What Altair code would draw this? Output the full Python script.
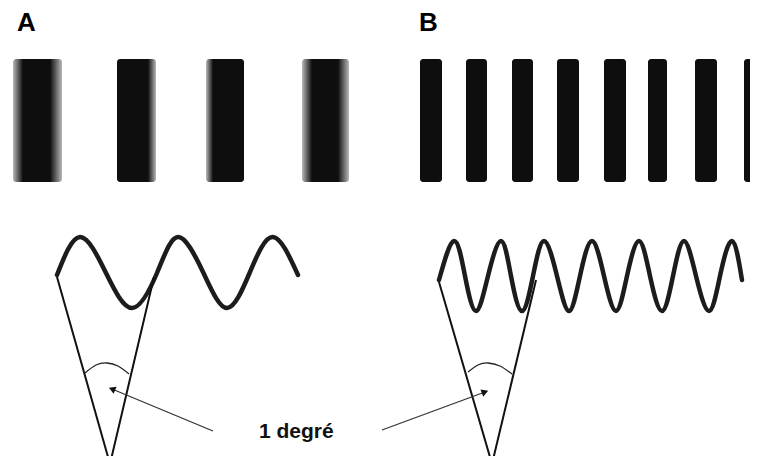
import altair as alt
import pandas as pd

# ---- data (image pixel coordinates) ----
panel_labels = ["A", "B"]
panel_label_x = [17, 419]
panel_label_y = [31, 31]

bar_top, bar_bottom = 59, 182
barsA_left = [13, 117, 206, 302]
barsA_right = [62, 156, 244, 349]
barsA_blur_left = [10, 0, 7, 10]
barsA_blur_right = [12, 8, 0, 11]
barsB_left = [420, 466, 512, 557, 604, 648, 695, 744]
barsB_right = [442, 487, 533, 579, 626, 667, 717, 762]

waveA_x = [57, 80, 106, 132, 157, 178, 203, 227, 250, 273, 298]
waveA_y = [275, 237, 273, 308, 273, 237, 272, 308, 272, 237, 275]
waveB_x = [439, 454, 465, 476, 488, 501, 511, 522, 533, 544, 557, 569, 580,
           592, 604, 616, 627, 639, 650, 662, 673, 684, 696, 709, 720, 732, 742]
waveB_y = [280, 241, 276, 311, 276, 241, 276, 311, 276, 241, 276, 311, 276,
           241, 276, 311, 276, 241, 276, 311, 276, 241, 276, 311, 276, 241, 280]

cone_x = [57, 154, 439, 536]
cone_y = [277, 277, 282, 280]
cone_apex_x = [110, 110, 492, 492]
cone_apex_y = [464, 464, 464, 464]

arcA_x = [85, 96, 107, 118, 129]
arcA_y = [373, 365, 363, 366, 374]
arcB_x = [468, 478, 488, 500, 512]
arcB_y = [372, 365, 363, 366, 374]

arrow_from_x = [213, 382]
arrow_from_y = [431, 430]
arrow_tip_x = [112, 485]
arrow_tip_y = [389, 392]
arrow_angle = [292.6, 69.6]

label_text = ["1 degré"]
label_x = [259]
label_y = [438]

# ---- scales ----
W, H = 742, 448
xs = alt.Scale(domain=[8, 750], nice=False, zero=False)
ys = alt.Scale(domain=[8, 456], nice=False, zero=False, reverse=True)


def X(f):
    return alt.X(f, type="quantitative", scale=xs, axis=None)


def Y(f):
    return alt.Y(f, type="quantitative", scale=ys, axis=None)


layers = []

# panel A bars with blurred edges
for l, r, bl, br in zip(barsA_left, barsA_right, barsA_blur_left, barsA_blur_right):
    w = r - l
    dark = "#0e0e0e"
    edge = "#b8b8b8"
    stops = [
        alt.GradientStop(offset=0, color=edge if bl > 0 else dark),
        alt.GradientStop(offset=bl / w if bl > 0 else 0.001, color=dark),
        alt.GradientStop(offset=1 - br / w if br > 0 else 0.999, color=dark),
        alt.GradientStop(offset=1, color=edge if br > 0 else dark),
    ]
    grad = alt.LinearGradient(gradient="linear", stops=stops, x1=0, x2=1, y1=0, y2=0)
    d = pd.DataFrame({"x": [l], "x2": [r], "y": [bar_top], "y2": [bar_bottom]})
    layers.append(
        alt.Chart(d).mark_rect(fill=grad, cornerRadius=3, clip=True).encode(
            x=X("x"), x2="x2", y=Y("y"), y2="y2"
        )
    )

# panel B bars
dB = pd.DataFrame({"x": barsB_left, "x2": barsB_right,
                   "y": [bar_top] * len(barsB_left), "y2": [bar_bottom] * len(barsB_left)})
layers.append(
    alt.Chart(dB).mark_rect(color="#0e0e0e", cornerRadius=3, clip=True).encode(
        x=X("x"), x2="x2", y=Y("y"), y2="y2"
    )
)

# waves
for wx, wy in [(waveA_x, waveA_y), (waveB_x, waveB_y)]:
    d = pd.DataFrame({"x": wx, "y": wy, "i": list(range(len(wx)))})
    layers.append(
        alt.Chart(d).mark_line(color="#1c1c1c", strokeWidth=4.5, interpolate="natural",
                               strokeCap="round", clip=True).encode(
            x=X("x"), y=Y("y"), order="i:Q"
        )
    )

# cone lines
dc = pd.DataFrame({"x": cone_x, "y": cone_y, "x2": cone_apex_x, "y2": cone_apex_y})
layers.append(
    alt.Chart(dc).mark_rule(color="#111111", strokeWidth=2, clip=True).encode(
        x=X("x"), y=Y("y"), x2="x2", y2="y2"
    )
)

# angle arcs
for ax, ay in [(arcA_x, arcA_y), (arcB_x, arcB_y)]:
    d = pd.DataFrame({"x": ax, "y": ay, "i": list(range(len(ax)))})
    layers.append(
        alt.Chart(d).mark_line(color="#222222", strokeWidth=1.3, interpolate="natural",
                               clip=True).encode(
            x=X("x"), y=Y("y"), order="i:Q"
        )
    )

# arrows
da = pd.DataFrame({"x": arrow_from_x, "y": arrow_from_y, "x2": arrow_tip_x, "y2": arrow_tip_y,
                   "a": arrow_angle})
layers.append(
    alt.Chart(da).mark_rule(color="#333333", strokeWidth=1.3, clip=True).encode(
        x=X("x"), y=Y("y"), x2="x2", y2="y2"
    )
)
layers.append(
    alt.Chart(da).mark_point(shape="triangle-up", filled=True, color="#111111", opacity=1,
                             size=60, clip=True).encode(
        x=X("x2"), y=Y("y2"), angle=alt.Angle("a:Q", scale=None)
    )
)

# panel letters
dl = pd.DataFrame({"t": panel_labels, "x": panel_label_x, "y": panel_label_y})
layers.append(
    alt.Chart(dl).mark_text(font="Liberation Sans", fontWeight="bold", fontSize=26,
                            align="left", baseline="alphabetic", color="#000000",
                            clip=True).encode(
        x=X("x"), y=Y("y"), text="t:N"
    )
)

# "1 degré"
dt = pd.DataFrame({"t": label_text, "x": label_x, "y": label_y})
layers.append(
    alt.Chart(dt).mark_text(font="Liberation Sans", fontWeight="bold", fontSize=21,
                            align="left", baseline="alphabetic", color="#111111",
                            clip=True).encode(
        x=X("x"), y=Y("y"), text="t:N"
    )
)

chart = alt.layer(*layers).properties(width=W, height=H, padding=0).configure_view(stroke=None)
chart.save("out.html", embed_options={"renderer": "svg", "actions": False})
